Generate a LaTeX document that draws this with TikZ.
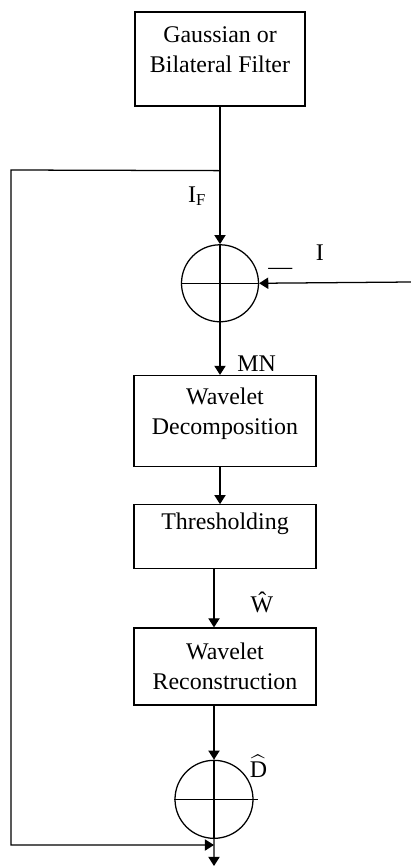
\documentclass[tikz,border=0pt]{standalone}
\usepackage{fontspec}
\setmainfont{Liberation Serif}
\usepackage{amsmath}
\usetikzlibrary{positioning, arrows.meta, calc}

\begin{document}
\begin{tikzpicture}[node distance=1cm, line width=0.9pt,
	box/.style={draw, rectangle, minimum width=4.55cm, align=center, inner sep=0pt, font=\fontsize{17}{21.3}\selectfont},
	sumnode/.style={draw, circle, minimum size=1.925cm, inner sep=0pt},
	arrow/.style={-{Triangle[length=6.5pt, width=8pt]}},
	lbl/.style={font=\fontsize{17}{21.3}\selectfont, inner sep=0pt}
	]
	\useasboundingbox (0,0) rectangle (10.275,-21.7);

	% Filter
	\node[box, minimum width=4.25cm, minimum height=2.35cm, text depth=0.48cm] (filter) at (5.5,-1.475) {Gaussian or\\Bilateral Filter};

	% First sum
	\node[sumnode, below=3.4375cm of filter] (sum1) {};

	% Wavelet chain
	\node[box, minimum height=2.275cm, text depth=0.48cm, below=1.3125cm of sum1, xshift=0.125cm] (decomp) {Wavelet\\Decomposition};
	\node[box, minimum height=1.6cm, text depth=0.78cm, below=0.925cm of decomp] (thresh) {Thresholding};
	\node[box, minimum height=1.925cm, below=1.45cm of thresh] (recon) {Wavelet\\Reconstruction};

	% Second sum
	\node[sumnode, minimum size=1.95cm, below=1.35cm of recon, xshift=-0.275cm] (sum2) {};
	\node[lbl, right=0.18cm of sum2.north east, yshift=0.12cm] (dhat) {$\widehat{\text{D}}$};

	% Coordinates
	\coordinate[below=1.6cm of filter.south] (split);
	\coordinate (fbtop) at (0.275,-4.25);
	\coordinate (fbbot) at (0.275,-21.125);
	\coordinate (in) at (10.275,-7.05);
	\coordinate (out) at (5.35,-21.65);

	% Crosses
	\draw (sum1.north) -- (sum1.south);
	\draw (sum1.west) -- (sum1.east);
	\draw (sum2.north) -- (sum2.south);
	\draw (sum2.west) -- ($(sum2.east)+(0.12,0)$);

	% Arrows
	\draw[arrow] (filter.south) -- node[lbl, left=0.33cm, pos=0.65] {I\textsubscript{F}} (sum1.north);
	\draw[arrow] (in) -- node[lbl, above=0.2cm, pos=0.86] {—} node[lbl, above=0.55cm, pos=0.6] {I} (sum1.east);
	\draw[arrow] (sum1.south) -- node[lbl, right=0.42cm, pos=0.79] {MN} (sum1.south |- decomp.north);
	\draw[arrow] (decomp.south -| sum1) -- (thresh.north -| sum1);
	\draw[arrow] (thresh.south -| sum2) -- node[lbl, right=0.9cm, pos=0.57] {\^{W}} (recon.north -| sum2);
	\draw[arrow] (recon.south -| sum2) -- (sum2.north);
	\draw[arrow] (sum2.south) -- (out);
	\draw[arrow] (split) -- (fbtop) -- (fbbot) -- (fbbot -| sum2);

\end{tikzpicture}
\end{document}
